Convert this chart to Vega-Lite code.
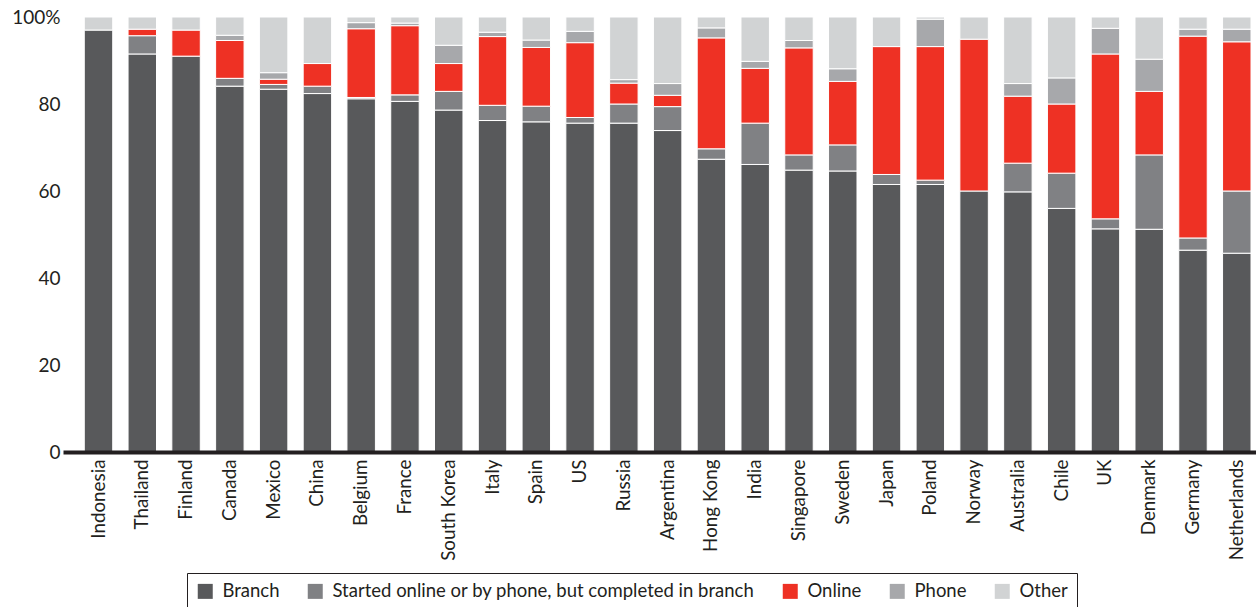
{
  "$schema": "https://vega.github.io/schema/vega-lite/v6.json",
  "autosize": {"type": "none"},
  "width": 1193,
  "height": 435,
  "padding": {"left": 63, "top": 17, "right": 0, "bottom": 155},
  "background": "white",
  "config": {
    "font": "Lato",
    "view": {"stroke": null},
    "axis": {"labelFont": "Lato", "labelColor": "#231f20", "grid": false, "ticks": false}
  },
  "data": {"values": [
    {"c":"Indonesia","ch":"Branch","v":97,"k":1},{"c":"Indonesia","ch":"Other","v":3,"k":5},
    {"c":"Thailand","ch":"Branch","v":91.5,"k":1},{"c":"Thailand","ch":"Started online or by phone, but completed in branch","v":4.2,"k":2},{"c":"Thailand","ch":"Online","v":1.5,"k":3},{"c":"Thailand","ch":"Other","v":2.8,"k":5},
    {"c":"Finland","ch":"Branch","v":91,"k":1},{"c":"Finland","ch":"Online","v":6,"k":3},{"c":"Finland","ch":"Other","v":3,"k":5},
    {"c":"Canada","ch":"Branch","v":84.1,"k":1},{"c":"Canada","ch":"Started online or by phone, but completed in branch","v":1.8,"k":2},{"c":"Canada","ch":"Online","v":8.7,"k":3},{"c":"Canada","ch":"Phone","v":1.2,"k":4},{"c":"Canada","ch":"Other","v":4.2,"k":5},
    {"c":"Mexico","ch":"Branch","v":83.4,"k":1},{"c":"Mexico","ch":"Started online or by phone, but completed in branch","v":1.1,"k":2},{"c":"Mexico","ch":"Online","v":1.2,"k":3},{"c":"Mexico","ch":"Phone","v":1.5,"k":4},{"c":"Mexico","ch":"Other","v":12.8,"k":5},
    {"c":"China","ch":"Branch","v":82.4,"k":1},{"c":"China","ch":"Started online or by phone, but completed in branch","v":1.7,"k":2},{"c":"China","ch":"Online","v":5.2,"k":3},{"c":"China","ch":"Other","v":10.7,"k":5},
    {"c":"Belgium","ch":"Branch","v":81.2,"k":1},{"c":"Belgium","ch":"Started online or by phone, but completed in branch","v":0.3,"k":2},{"c":"Belgium","ch":"Online","v":15.8,"k":3},{"c":"Belgium","ch":"Phone","v":1.4,"k":4},{"c":"Belgium","ch":"Other","v":1.3,"k":5},
    {"c":"France","ch":"Branch","v":80.6,"k":1},{"c":"France","ch":"Started online or by phone, but completed in branch","v":1.5,"k":2},{"c":"France","ch":"Online","v":15.9,"k":3},{"c":"France","ch":"Phone","v":0.6,"k":4},{"c":"France","ch":"Other","v":1.4,"k":5},
    {"c":"South Korea","ch":"Branch","v":78.6,"k":1},{"c":"South Korea","ch":"Started online or by phone, but completed in branch","v":4.3,"k":2},{"c":"South Korea","ch":"Online","v":6.4,"k":3},{"c":"South Korea","ch":"Phone","v":4.2,"k":4},{"c":"South Korea","ch":"Other","v":6.5,"k":5},
    {"c":"Italy","ch":"Branch","v":76.2,"k":1},{"c":"Italy","ch":"Started online or by phone, but completed in branch","v":3.5,"k":2},{"c":"Italy","ch":"Online","v":15.8,"k":3},{"c":"Italy","ch":"Phone","v":1.0,"k":4},{"c":"Italy","ch":"Other","v":3.5,"k":5},
    {"c":"Spain","ch":"Branch","v":75.9,"k":1},{"c":"Spain","ch":"Started online or by phone, but completed in branch","v":3.6,"k":2},{"c":"Spain","ch":"Online","v":13.5,"k":3},{"c":"Spain","ch":"Phone","v":1.7,"k":4},{"c":"Spain","ch":"Other","v":5.3,"k":5},
    {"c":"US","ch":"Branch","v":75.6,"k":1},{"c":"US","ch":"Started online or by phone, but completed in branch","v":1.3,"k":2},{"c":"US","ch":"Online","v":17.2,"k":3},{"c":"US","ch":"Phone","v":2.6,"k":4},{"c":"US","ch":"Other","v":3.3,"k":5},
    {"c":"Russia","ch":"Branch","v":75.6,"k":1},{"c":"Russia","ch":"Started online or by phone, but completed in branch","v":4.4,"k":2},{"c":"Russia","ch":"Online","v":4.8,"k":3},{"c":"Russia","ch":"Phone","v":0.8,"k":4},{"c":"Russia","ch":"Other","v":14.4,"k":5},
    {"c":"Argentina","ch":"Branch","v":73.9,"k":1},{"c":"Argentina","ch":"Started online or by phone, but completed in branch","v":5.5,"k":2},{"c":"Argentina","ch":"Online","v":2.6,"k":3},{"c":"Argentina","ch":"Phone","v":2.7,"k":4},{"c":"Argentina","ch":"Other","v":15.3,"k":5},
    {"c":"Hong Kong","ch":"Branch","v":67.3,"k":1},{"c":"Hong Kong","ch":"Started online or by phone, but completed in branch","v":2.4,"k":2},{"c":"Hong Kong","ch":"Online","v":25.5,"k":3},{"c":"Hong Kong","ch":"Phone","v":2.3,"k":4},{"c":"Hong Kong","ch":"Other","v":2.5,"k":5},
    {"c":"India","ch":"Branch","v":66.1,"k":1},{"c":"India","ch":"Started online or by phone, but completed in branch","v":9.5,"k":2},{"c":"India","ch":"Online","v":12.6,"k":3},{"c":"India","ch":"Phone","v":1.6,"k":4},{"c":"India","ch":"Other","v":10.2,"k":5},
    {"c":"Singapore","ch":"Branch","v":64.8,"k":1},{"c":"Singapore","ch":"Started online or by phone, but completed in branch","v":3.5,"k":2},{"c":"Singapore","ch":"Online","v":24.6,"k":3},{"c":"Singapore","ch":"Phone","v":1.7,"k":4},{"c":"Singapore","ch":"Other","v":5.4,"k":5},
    {"c":"Sweden","ch":"Branch","v":64.6,"k":1},{"c":"Sweden","ch":"Started online or by phone, but completed in branch","v":6.0,"k":2},{"c":"Sweden","ch":"Online","v":14.6,"k":3},{"c":"Sweden","ch":"Phone","v":2.9,"k":4},{"c":"Sweden","ch":"Other","v":11.9,"k":5},
    {"c":"Japan","ch":"Branch","v":61.5,"k":1},{"c":"Japan","ch":"Started online or by phone, but completed in branch","v":2.3,"k":2},{"c":"Japan","ch":"Online","v":29.4,"k":3},{"c":"Japan","ch":"Other","v":6.8,"k":5},
    {"c":"Poland","ch":"Branch","v":61.5,"k":1},{"c":"Poland","ch":"Started online or by phone, but completed in branch","v":1.0,"k":2},{"c":"Poland","ch":"Online","v":30.7,"k":3},{"c":"Poland","ch":"Phone","v":6.3,"k":4},{"c":"Poland","ch":"Other","v":0.5,"k":5},
    {"c":"Norway","ch":"Branch","v":60.0,"k":1},{"c":"Norway","ch":"Online","v":34.9,"k":3},{"c":"Norway","ch":"Other","v":5.1,"k":5},
    {"c":"Australia","ch":"Branch","v":59.8,"k":1},{"c":"Australia","ch":"Started online or by phone, but completed in branch","v":6.6,"k":2},{"c":"Australia","ch":"Online","v":15.4,"k":3},{"c":"Australia","ch":"Phone","v":2.9,"k":4},{"c":"Australia","ch":"Other","v":15.3,"k":5},
    {"c":"Chile","ch":"Branch","v":56.0,"k":1},{"c":"Chile","ch":"Started online or by phone, but completed in branch","v":8.1,"k":2},{"c":"Chile","ch":"Online","v":15.9,"k":3},{"c":"Chile","ch":"Phone","v":6.0,"k":4},{"c":"Chile","ch":"Other","v":14.0,"k":5},
    {"c":"UK","ch":"Branch","v":51.3,"k":1},{"c":"UK","ch":"Started online or by phone, but completed in branch","v":2.3,"k":2},{"c":"UK","ch":"Online","v":37.9,"k":3},{"c":"UK","ch":"Phone","v":5.9,"k":4},{"c":"UK","ch":"Other","v":2.6,"k":5},
    {"c":"Denmark","ch":"Branch","v":51.2,"k":1},{"c":"Denmark","ch":"Started online or by phone, but completed in branch","v":17.1,"k":2},{"c":"Denmark","ch":"Online","v":14.6,"k":3},{"c":"Denmark","ch":"Phone","v":7.4,"k":4},{"c":"Denmark","ch":"Other","v":9.7,"k":5},
    {"c":"Germany","ch":"Branch","v":46.4,"k":1},{"c":"Germany","ch":"Started online or by phone, but completed in branch","v":2.8,"k":2},{"c":"Germany","ch":"Online","v":46.4,"k":3},{"c":"Germany","ch":"Phone","v":1.6,"k":4},{"c":"Germany","ch":"Other","v":2.8,"k":5},
    {"c":"Netherlands","ch":"Branch","v":45.7,"k":1},{"c":"Netherlands","ch":"Started online or by phone, but completed in branch","v":14.3,"k":2},{"c":"Netherlands","ch":"Online","v":34.3,"k":3},{"c":"Netherlands","ch":"Phone","v":2.9,"k":4},{"c":"Netherlands","ch":"Other","v":2.8,"k":5}
  ]},
  "mark": {"type": "bar", "stroke": "white", "strokeWidth": 1},
  "encoding": {
    "x": {
      "field": "c", "type": "nominal", "sort": null,
      "scale": {"paddingInner": 0.35, "paddingOuter": 0.3, "align": 0.81},
      "axis": {"title": null, "zindex": 1, "labelAngle": -90, "labelFontSize": 18.8, "labelPadding": 7, "domainColor": "#231f20", "domainWidth": 4, "labelAlign": "right", "labelBaseline": "middle"}
    },
    "y": {
      "field": "v", "type": "quantitative", "stack": "zero",
      "scale": {"domain": [0, 100], "nice": false},
      "axis": {"title": null, "values": [0, 20, 40, 60, 80, 100], "domain": false, "labelFontSize": 19, "labelPadding": 3, "labelExpr": "datum.value == 100 ? '100%' : datum.label"}
    },
    "order": {"field": "k", "type": "quantitative"},
    "color": {
      "field": "ch", "type": "nominal",
      "scale": {
        "domain": ["Branch", "Started online or by phone, but completed in branch", "Online", "Phone", "Other"],
        "range": ["#58595b", "#808184", "#ee3124", "#a7a8ab", "#d1d3d4"]
      },
      "legend": {
        "title": null, "orient": "none", "direction": "horizontal", "legendX": 124, "legendY": 556,
        "symbolType": "square", "symbolSize": 225, "symbolStrokeWidth": 0,
        "labelFontSize": 18.5, "labelColor": "#231f20", "labelLimit": 700, "labelOffset": 8,
        "columnPadding": 26, "padding": 9, "strokeColor": "#231f20"
      }
    }
  }
}
